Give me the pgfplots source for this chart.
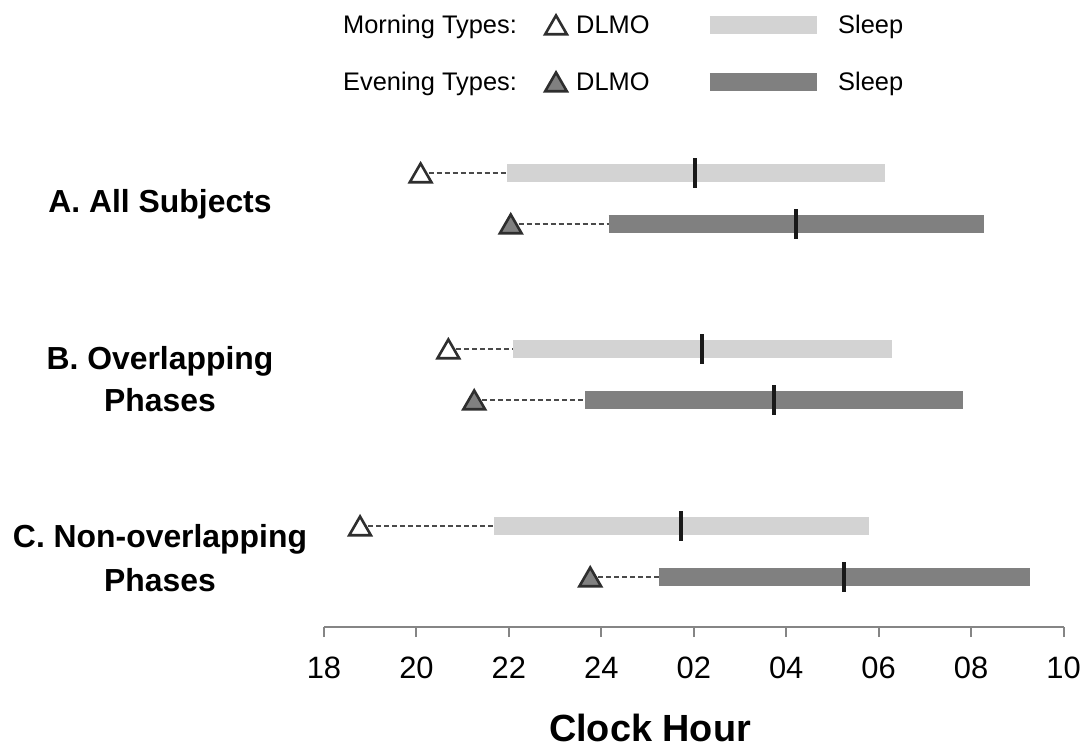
\documentclass[border=0pt]{standalone}
\usepackage{pgfplots}
\pgfplotsset{compat=1.18}
\usepackage{fontspec}
\setmainfont{Liberation Sans}
\definecolor{lightbar}{HTML}{D3D3D3}
\definecolor{darkbar}{HTML}{808080}
\definecolor{axisgray}{HTML}{858585}
\definecolor{triedge}{HTML}{2E2E2E}
\definecolor{dashgray}{HTML}{4A4A4A}
\begin{document}
\begin{tikzpicture}
\useasboundingbox (0,0) rectangle (1083bp,750bp);
\begin{axis}[
  at={(324bp,123bp)}, anchor=south west,
  scale only axis, width=739.5bp, height=627bp,
  xmin=18, xmax=34, ymin=123, ymax=750,
  axis x line=bottom, axis y line=none,
  axis line style={-, draw=axisgray, line width=2bp},
  xtick={18,20,22,24,26,28,30,32,34},
  xticklabels={18,20,22,24,02,04,06,08,10},
  tick align=outside, major tick length=10bp,
  tick style={draw=axisgray, line width=2bp},
  xticklabel style={font=\fontsize{31}{36}\selectfont, anchor=base, yshift=-41bp},
  /pgf/number format/assume math mode=true,
  clip=false,
  tri/.style={only marks, mark=triangle*, mark size=12.5bp,
    mark options={draw=triedge, line width=2.6bp, yshift=-3bp, fill=#1}},
  dsh/.style={draw=dashgray, line width=1.4bp, dash pattern=on 5bp off 3bp},
  mid/.style={draw=black!90, line width=4bp},
]
% dashed connectors (DLMO to sleep onset)
\addplot[dsh] coordinates {(20.09,577) (21.97,577)};
\addplot[dsh] coordinates {(22.04,526) (24.16,526)};
\addplot[dsh] coordinates {(20.69,401) (22.09,401)};
\addplot[dsh] coordinates {(21.25,350) (23.65,350)};
\addplot[dsh] coordinates {(18.78,224) (21.68,224)};
\addplot[dsh] coordinates {(23.76,173) (25.25,173)};
% sleep bars
\addplot[draw=lightbar, line width=18bp] coordinates {(21.97,577) (30.14,577)};
\addplot[draw=darkbar, line width=18bp] coordinates {(24.16,526) (32.28,526)};
\addplot[draw=lightbar, line width=18bp] coordinates {(22.09,401) (30.29,401)};
\addplot[draw=darkbar, line width=18bp] coordinates {(23.65,350) (31.83,350)};
\addplot[draw=lightbar, line width=18bp] coordinates {(21.68,224) (29.79,224)};
\addplot[draw=darkbar, line width=18bp] coordinates {(25.25,173) (33.27,173)};
% mid-sleep ticks
\addplot[mid] coordinates {(26.03,562) (26.03,592)};
\addplot[mid] coordinates {(28.22,511) (28.22,541)};
\addplot[mid] coordinates {(26.18,386) (26.18,416)};
\addplot[mid] coordinates {(27.73,335) (27.73,365)};
\addplot[mid] coordinates {(25.72,209) (25.72,239)};
\addplot[mid] coordinates {(29.25,158) (29.25,188)};
% DLMO triangles
\addplot[tri=white] coordinates {(20.09,577) (20.69,401) (18.78,224)};
\addplot[tri=darkbar] coordinates {(22.04,526) (21.25,350) (23.76,173)};
% legend symbols
\addplot[tri=white] coordinates {(23.02,725)};
\addplot[tri=darkbar] coordinates {(23.02,668)};
\addplot[draw=lightbar, line width=18bp] coordinates {(26.35,725) (28.67,725)};
\addplot[draw=darkbar, line width=18bp] coordinates {(26.35,668) (28.67,668)};
\end{axis}
% legend texts
\begin{scope}[every node/.style={font=\fontsize{25.5}{30}\selectfont, inner sep=0pt, anchor=base west}]
\node at (343bp,716bp) {Morning Types:};
\node at (576bp,716bp) {DLMO};
\node at (838bp,716bp) {Sleep};
\node at (343bp,659bp) {Evening Types:};
\node at (576bp,659bp) {DLMO};
\node at (838bp,659bp) {Sleep};
\end{scope}
% group labels
\begin{scope}[every node/.style={font=\fontsize{32}{38}\selectfont\bfseries, inner sep=0pt, anchor=base}]
\node at (160bp,537.5bp) {A. All Subjects};
\node at (160bp,380.5bp) {B. Overlapping};
\node at (160bp,338.5bp) {Phases};
\node at (160bp,202.5bp) {C. Non-overlapping};
\node at (160bp,158.5bp) {Phases};
\end{scope}
% axis title
\node[font=\fontsize{38}{44}\selectfont\bfseries, inner sep=0pt, anchor=base] at (650bp,9bp) {Clock Hour};
\end{tikzpicture}
\end{document}
